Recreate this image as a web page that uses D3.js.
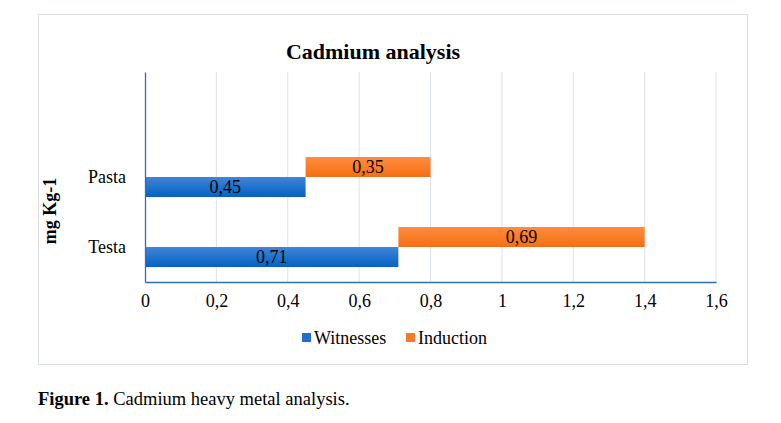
<!DOCTYPE html>
<html>
<head>
<meta charset="utf-8">
<script src="https://cdn.jsdelivr.net/npm/d3@7"></script>
<style>
  body { margin: 0; background: #fff; }
  svg, svg text { font-family: "Times New Roman", "Liberation Serif", Tinos, serif !important; }
</style>
</head>
<body>
<div id="chart"></div>
<script>
'use strict';

// chart data
const categories = ['Testa', 'Pasta', ''];
const witnesses = [0.71, 0.45, null];
const induction = [0.69, 0.35, null];
const xTicks = [0, 0.2, 0.4, 0.6, 0.8, 1, 1.2, 1.4, 1.6];
const seriesNames = ['Witnesses', 'Induction'];

const width = 781, height = 423;
const plot = { left: 145, right: 716, top: 72, bottom: 282 };
const fmt = v => String(v).replace('.', ',');

const svg = d3.select('#chart').append('svg')
  .attr('width', width)
  .attr('height', height);

// gradients like the office chart fill
const defs = svg.append('defs');
function addGradient (id, top, bottom) {
  const g = defs.append('linearGradient').attr('id', id)
    .attr('x1', 0).attr('y1', 0).attr('x2', 0).attr('y2', 1);
  g.append('stop').attr('offset', '0%').attr('stop-color', top);
  g.append('stop').attr('offset', '100%').attr('stop-color', bottom);
}
addGradient('gBlue', '#3f85d8', '#0561c2');
addGradient('gOrange', '#ff8c40', '#f46f12');

// chart frame
svg.append('rect')
  .attr('x', 38.5).attr('y', 14.5)
  .attr('width', 709).attr('height', 350)
  .attr('fill', '#fff')
  .attr('stroke', '#d9dee4');

const x = d3.scaleLinear().domain([0, 1.6]).range([plot.left, plot.right]);
const y = d3.scaleBand().domain(categories).range([plot.bottom, plot.top]);
const sub = d3.scaleBand().domain(['Induction', 'Witnesses'])
  .range([0, y.bandwidth()]).paddingOuter(0.75);

// gridlines
svg.append('g')
  .selectAll('line')
  .data(xTicks.slice(1))
  .enter().append('line')
  .attr('x1', d => x(d)).attr('x2', d => x(d))
  .attr('y1', plot.top).attr('y2', plot.bottom)
  .attr('stroke', '#dde3ea')
  .attr('stroke-width', 1);

const rows = categories.map((c, i) => ({ c, w: witnesses[i], ind: induction[i] }))
  .filter(d => d.w != null);

// witnesses bars
svg.append('g').selectAll('rect')
  .data(rows)
  .enter().append('rect')
  .attr('x', x(0))
  .attr('y', d => y(d.c) + sub('Witnesses'))
  .attr('width', d => x(d.w) - x(0))
  .attr('height', sub.bandwidth())
  .attr('fill', 'url(#gBlue)');

// induction bars, starting where witnesses end
svg.append('g').selectAll('rect')
  .data(rows)
  .enter().append('rect')
  .attr('x', d => x(d.w))
  .attr('y', d => y(d.c) + sub('Induction'))
  .attr('width', d => x(d.w + d.ind) - x(d.w))
  .attr('height', sub.bandwidth())
  .attr('fill', 'url(#gOrange)');

// data labels
const labels = svg.append('g').attr('font-size', 18).attr('text-anchor', 'middle').attr('fill', '#000');
rows.forEach(d => {
  labels.append('text')
    .attr('x', (x(0) + x(d.w)) / 2)
    .attr('y', y(d.c) + sub('Witnesses') + sub.bandwidth() / 2 + 6)
    .text(fmt(d.w));
  labels.append('text')
    .attr('x', (x(d.w) + x(d.w + d.ind)) / 2)
    .attr('y', y(d.c) + sub('Induction') + sub.bandwidth() / 2 + 6)
    .text(fmt(d.ind));
});

// axes
const xAxis = d3.axisBottom(x).tickValues(xTicks).tickSize(0).tickPadding(12).tickFormat(fmt);
const gx = svg.append('g').attr('transform', `translate(0,${plot.bottom})`).call(xAxis);
gx.select('.domain').attr('stroke', '#2e6fbb').attr('stroke-width', 1.3);
gx.selectAll('text').attr('font-size', 18).attr('fill', '#000');

const yAxis = d3.axisLeft(y).tickSize(0).tickPadding(19);
const gy = svg.append('g').attr('transform', `translate(${plot.left},0)`).call(yAxis);
gy.select('.domain').attr('stroke', '#2e6fbb').attr('stroke-width', 1.3);
gy.selectAll('text').attr('font-size', 18).attr('fill', '#000');

// title
svg.append('text')
  .attr('x', 373).attr('y', 59)
  .attr('text-anchor', 'middle')
  .attr('font-size', 22).attr('font-weight', 'bold')
  .text('Cadmium analysis');

// y axis title
svg.append('text')
  .attr('transform', 'translate(56,211) rotate(-90)')
  .attr('text-anchor', 'middle')
  .attr('font-size', 18).attr('font-weight', 'bold')
  .text('mg Kg-1');

// legend
const legend = svg.append('g').attr('font-size', 18);
const legendX = [302, 406];
seriesNames.forEach((name, i) => {
  legend.append('rect')
    .attr('x', legendX[i]).attr('y', 333)
    .attr('width', 9).attr('height', 9)
    .attr('fill', i === 0 ? '#1f6fcb' : '#f97a26');
  legend.append('text')
    .attr('x', legendX[i] + 12).attr('y', 344)
    .text(name);
});

// caption
const cap = svg.append('text').attr('x', 38).attr('y', 405).attr('font-size', 18.5);
cap.append('tspan').attr('font-weight', 'bold').text('Figure 1.');
cap.append('tspan').text(' Cadmium heavy metal analysis.');
</script>
</body>
</html>
